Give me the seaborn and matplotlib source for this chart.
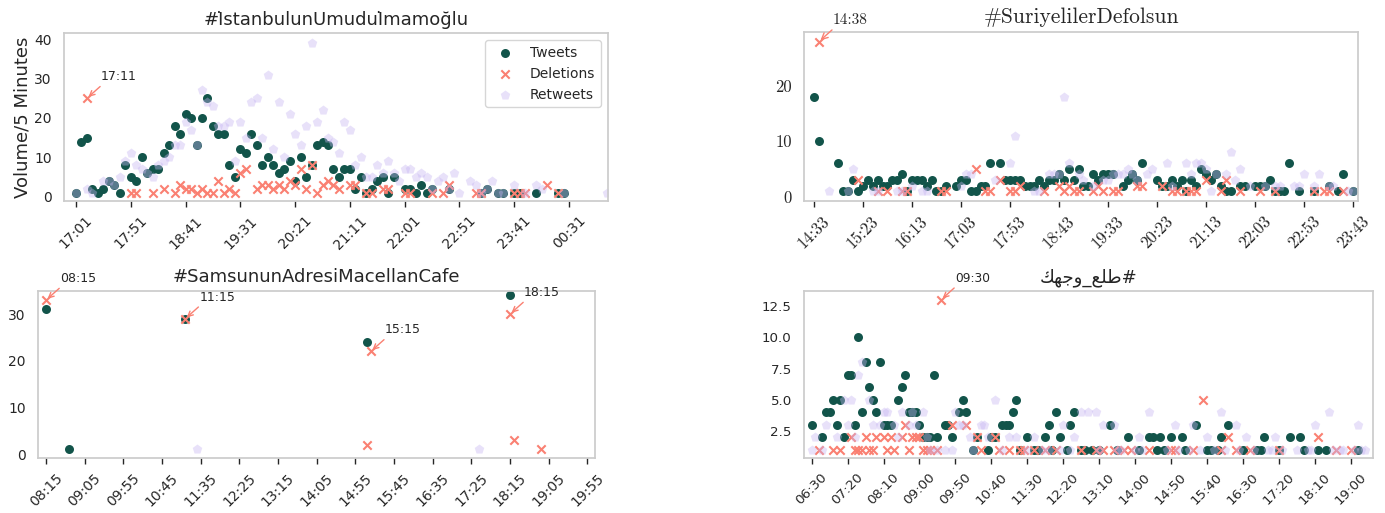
import pandas as pd
import seaborn as sns
import matplotlib.pyplot as plt

sns.set_style('whitegrid', {'axes.grid': False, 'xtick.bottom': True,
                            'axes.edgecolor': '.8'})
plt.rcParams['font.family'] = ['DejaVu Sans']
plt.rcParams['axes.linewidth'] = 1.25
plt.rcParams['xtick.major.size'] = 4
plt.rcParams['xtick.major.width'] = 1

TWEET = '#12544a'
DELETE = '#fa8072'
RETWEET = '#c6b5f2'

# all series are keyed by 5-minute bin index -> volume
# --- #İstanbulunUmuduİmamoğlu
ist_tweets = {0: 1, 1: 14, 2: 15, 3: 2, 4: 1, 5: 2, 6: 4, 7: 3, 8: 1, 9: 8, 10: 5, 11: 4, 12: 10,
              13: 6, 14: 7, 15: 7, 16: 11, 17: 13, 18: 18, 19: 16, 20: 21, 21: 20, 22: 13, 23: 20,
              24: 25, 25: 18, 26: 16, 27: 16, 28: 8, 29: 5, 30: 12, 31: 11, 32: 16, 33: 13, 34: 8,
              35: 10, 36: 8, 37: 6, 38: 7, 39: 9, 40: 4, 41: 10, 42: 5, 43: 8, 44: 13, 45: 14, 46: 13,
              47: 7, 48: 5, 49: 7, 50: 7, 51: 2, 52: 5, 53: 1, 54: 2, 55: 4, 56: 5, 57: 1, 58: 5,
              60: 2, 61: 2, 62: 1, 63: 3, 64: 1, 65: 2, 68: 2, 74: 1, 75: 2, 77: 1, 78: 1, 80: 1,
              81: 1, 84: 1, 88: 1, 89: 1}
ist_deletions = {2: 25, 10: 1, 11: 1, 14: 1, 16: 2, 18: 1, 19: 3, 20: 2, 21: 2, 22: 1, 23: 2, 24: 1,
                 25: 1, 26: 4, 27: 1, 28: 2, 29: 1, 30: 6, 31: 7, 33: 2, 34: 3, 35: 3, 36: 2, 37: 3,
                 38: 2, 39: 4, 40: 3, 41: 7, 42: 2, 43: 8, 44: 1, 45: 3, 46: 4, 47: 3, 48: 2, 50: 3,
                 51: 3, 53: 1, 54: 1, 56: 2, 57: 2, 60: 1, 61: 1, 65: 1, 67: 1, 68: 3, 73: 1, 74: 1,
                 80: 1, 81: 1, 82: 1, 86: 3, 88: 1}
ist_retweets = {0: 1, 2: 2, 3: 1, 5: 4, 6: 4, 7: 3, 8: 5, 9: 9, 10: 11, 11: 8, 12: 7, 13: 6, 14: 5,
                15: 8, 16: 9, 17: 10, 18: 13, 19: 13, 20: 19, 21: 17, 22: 13, 23: 27, 24: 24, 25: 23,
                26: 18, 27: 18, 28: 19, 29: 9, 30: 19, 31: 15, 32: 24, 33: 25, 34: 15, 35: 31, 36: 12,
                37: 24, 38: 10, 39: 21, 40: 16, 41: 13, 42: 18, 43: 39, 44: 19, 45: 22, 46: 15, 47: 14,
                48: 11, 49: 19, 50: 17, 51: 8, 52: 10, 53: 5, 54: 5, 55: 8, 56: 6, 57: 9, 58: 6, 59: 4,
                60: 7, 61: 7, 62: 5, 63: 6, 64: 5, 65: 2, 66: 4, 67: 5, 68: 2, 69: 6, 70: 1, 72: 4,
                73: 3, 74: 1, 75: 2, 76: 4, 77: 1, 78: 1, 80: 3, 82: 1, 84: 3, 85: 2, 89: 1, 97: 1}
ist_ticks = ['17:01', '17:51', '18:41', '19:31', '20:21', '21:11', '22:01', '22:51', '23:41', '00:31']
ist_peaks = [2]
ist_peak_labels = ['17:11']

# --- #SuriyelilerDefolsun
sur_tweets = {0: 18, 1: 10, 5: 6, 6: 1, 7: 1, 8: 3, 9: 1, 10: 2, 11: 3, 12: 2, 13: 3, 14: 2, 15: 2,
              16: 3, 17: 3, 18: 4, 19: 1, 20: 3, 21: 3, 22: 3, 23: 2, 24: 3, 25: 1, 26: 1, 27: 2,
              29: 2, 30: 3, 31: 3, 32: 1, 33: 1, 34: 2, 35: 2, 36: 6, 38: 6, 39: 3, 40: 3, 41: 3,
              42: 3, 43: 2, 44: 2, 45: 2, 46: 3, 47: 2, 48: 3, 49: 3, 50: 4, 51: 3, 52: 5, 53: 3,
              54: 5, 55: 2, 56: 2, 57: 4, 58: 3, 59: 4, 60: 4, 61: 4, 63: 2, 64: 3, 65: 4, 66: 3,
              67: 6, 70: 3, 71: 2, 72: 2, 73: 3, 74: 2, 75: 3, 76: 1, 77: 3, 78: 2, 79: 5, 80: 4,
              81: 3, 82: 4, 83: 2, 84: 1, 85: 1, 87: 2, 88: 2, 90: 2, 91: 2, 92: 2, 93: 3, 94: 1,
              95: 1, 96: 1, 97: 6, 99: 1, 102: 1, 105: 2, 107: 1, 108: 4, 110: 1}
sur_deletions = {1: 28, 9: 3, 13: 1, 15: 1, 18: 1, 19: 1, 26: 1, 27: 1, 33: 5, 35: 1, 36: 1, 38: 3,
                 40: 1, 41: 1, 42: 2, 47: 1, 50: 2, 51: 1, 52: 2, 53: 1, 54: 1, 57: 1, 58: 2, 59: 1,
                 61: 1, 62: 1, 66: 2, 67: 2, 71: 2, 73: 1, 74: 1, 76: 1, 77: 1, 78: 1, 80: 3, 83: 1,
                 84: 3, 87: 1, 91: 1, 94: 1, 102: 1, 104: 1, 105: 1, 108: 1}
sur_retweets = {3: 1, 7: 1, 8: 5, 12: 1, 13: 1, 17: 1, 18: 1, 20: 2, 22: 1, 23: 1, 30: 2, 31: 4,
                32: 4, 37: 3, 40: 6, 41: 11, 45: 1, 46: 1, 48: 4, 49: 4, 50: 4, 51: 18, 52: 6, 54: 4,
                55: 3, 57: 2, 59: 3, 60: 3, 61: 4, 62: 4, 63: 4, 64: 5, 65: 4, 66: 3, 68: 4, 69: 5,
                72: 6, 73: 2, 76: 6, 77: 4, 78: 6, 79: 6, 80: 5, 81: 1, 82: 4, 84: 4, 85: 8, 86: 3,
                87: 5, 89: 2, 92: 2, 94: 2, 95: 2, 98: 2, 99: 2, 100: 4, 102: 2, 103: 4, 105: 2,
                106: 2, 109: 1, 110: 1}
sur_ticks = ['14:33', '15:23', '16:13', '17:03', '17:53', '18:43', '19:33', '20:23', '21:13',
             '22:03', '22:53', '23:43']
sur_peaks = [1]
sur_peak_labels = ['14:38']

# --- #SamsununAdresiMacellanCafe
sam_tweets = {0: 31, 6: 1, 36: 29, 83: 24, 120: 34}
sam_deletions = {0: 33, 36: 29, 83: 2, 84: 22, 120: 30, 121: 3, 128: 1}
sam_retweets = {39: 1, 112: 1}
sam_ticks = ['08:15', '09:05', '09:55', '10:45', '11:35', '12:25', '13:15', '14:05', '14:55',
             '15:45', '16:35', '17:25', '18:15', '19:05', '19:55']
sam_peaks = [0, 36, 84, 120]
sam_peak_labels = ['08:15', '11:15', '15:15', '18:15']

# --- #طلع_وجهك
tal_tweets = {0: 3, 3: 2, 4: 4, 5: 4, 6: 5, 7: 3, 8: 5, 9: 2, 10: 7, 11: 7, 12: 3, 13: 10, 14: 4,
              15: 8, 16: 6, 17: 5, 18: 4, 19: 8, 20: 3, 21: 3, 22: 3, 24: 5, 25: 6, 26: 7, 27: 4,
              28: 4, 29: 4, 30: 3, 31: 2, 32: 2, 33: 2, 34: 7, 35: 2, 37: 3, 38: 3, 39: 2, 41: 4,
              42: 5, 43: 4, 45: 1, 46: 2, 49: 1, 50: 2, 51: 2, 53: 3, 54: 3, 55: 3, 56: 4, 57: 5,
              58: 1, 60: 2, 62: 1, 63: 1, 65: 2, 66: 3, 67: 1, 68: 4, 69: 2, 71: 1, 72: 3, 73: 4,
              75: 1, 76: 1, 78: 1, 80: 1, 83: 3, 85: 1, 88: 2, 91: 1, 94: 2, 95: 2, 96: 1, 97: 2,
              98: 1, 100: 2, 103: 2, 104: 1, 107: 3, 110: 1, 111: 1, 113: 1, 114: 2, 116: 3, 120: 1,
              124: 1, 125: 1, 126: 2, 130: 1, 133: 2, 136: 2, 137: 1, 141: 1, 143: 1, 152: 1}
tal_deletions = {2: 1, 6: 1, 8: 1, 11: 2, 12: 1, 13: 1, 14: 1, 15: 2, 16: 1, 17: 1, 18: 2, 20: 2,
                 21: 1, 22: 2, 23: 1, 25: 2, 26: 3, 27: 1, 28: 2, 29: 2, 30: 2, 31: 1, 32: 1, 33: 1,
                 35: 1, 36: 13, 39: 3, 43: 3, 46: 2, 47: 1, 51: 2, 52: 1, 55: 1, 58: 1, 59: 1, 62: 1,
                 65: 1, 68: 1, 75: 1, 79: 1, 81: 1, 84: 1, 87: 1, 89: 1, 94: 1, 100: 1, 101: 1,
                 106: 1, 109: 5, 114: 1, 116: 2, 118: 1, 122: 1, 130: 1, 141: 2, 146: 1, 150: 1}
tal_retweets = {0: 1, 1: 2, 3: 1, 4: 3, 7: 2, 9: 5, 10: 3, 11: 5, 12: 2, 13: 7, 14: 8, 16: 5, 17: 3,
                19: 3, 20: 4, 21: 4, 23: 3, 24: 2, 25: 4, 27: 3, 28: 4, 29: 3, 31: 4, 32: 2, 33: 1,
                35: 1, 37: 1, 39: 1, 40: 4, 41: 3, 42: 3, 44: 2, 45: 1, 47: 3, 48: 3, 49: 2, 51: 5,
                53: 1, 55: 2, 57: 2, 60: 1, 62: 2, 64: 1, 66: 1, 69: 1, 70: 3, 72: 1, 73: 2, 75: 4,
                77: 4, 79: 4, 80: 1, 81: 3, 84: 3, 85: 1, 86: 1, 90: 1, 91: 2, 92: 1, 94: 4, 99: 1,
                101: 3, 102: 1, 105: 1, 106: 3, 108: 1, 110: 2, 112: 1, 114: 4, 115: 1, 118: 3,
                119: 1, 121: 2, 123: 1, 127: 1, 128: 1, 129: 2, 131: 1, 135: 1, 138: 1, 139: 1,
                140: 3, 144: 4, 145: 1, 147: 1, 148: 1, 151: 1, 152: 3, 153: 1, 154: 1}
tal_ticks = ['06:30', '07:20', '08:10', '09:00', '09:50', '10:40', '11:30', '12:20', '13:10',
             '14:00', '14:50', '15:40', '16:30', '17:20', '18:10', '19:00']
tal_peaks = [36]
tal_peak_labels = ['09:30']
# "#طلع_وجهك" written in visual order with Arabic presentation forms (matplotlib does no shaping)
tal_title = '\uFEDA\uFEEC\uFE9F\uFEED_\uFECA\uFEE0\uFEC3#'


def frame(series):
    return pd.DataFrame({'minute': [k * 5 for k in series], 'volume': list(series.values())})


def panel(ax, tweets, deletions, retweets, ticks, peaks, peak_labels, title, font,
          tick_size=10, title_size=13, note_size=9, title_font=None):
    sns.scatterplot(data=frame(tweets), x='minute', y='volume', ax=ax, color=TWEET, marker='o',
                    s=42, linewidth=0, label='Tweets')
    sns.scatterplot(data=frame(deletions), x='minute', y='volume', ax=ax, color=DELETE, marker='x',
                    s=36, linewidth=1.5, label='Deletions')
    sns.scatterplot(data=frame(retweets), x='minute', y='volume', ax=ax, color=RETWEET, marker='p',
                    s=52, linewidth=0, alpha=0.4, label='Retweets')
    ax.set_xticks([i * 50 for i in range(len(ticks))])
    ax.set_xticklabels(ticks, rotation=45)
    for lbl in ax.get_xticklabels() + ax.get_yticklabels():
        lbl.set_family(font)
        lbl.set_fontsize(tick_size)
    for k, txt in zip(peaks, peak_labels):
        ax.annotate(txt, xy=(k * 5, deletions[k]), xytext=(14, 18), textcoords='offset pixels',
                    fontsize=note_size, color='.15', family=font,
                    arrowprops=dict(arrowstyle='->', color=DELETE, lw=1, relpos=(0.08, 0),
                                    shrinkA=0, shrinkB=1.5))
    ax.set_title(title, fontsize=title_size, family=title_font or font)
    ax.set_xlabel('')
    ax.set_ylabel('')
    ax.tick_params(axis='y', length=0, pad=9)
    ax.tick_params(axis='x', pad=5)
    ax.get_legend().remove()


fig = plt.figure(figsize=(13.85, 5.13), dpi=100)
ax1 = fig.add_axes([0.0464, 0.6082, 0.3924, 0.3269])
ax2 = fig.add_axes([0.5807, 0.6082, 0.4001, 0.3300])
ax3 = fig.add_axes([0.02765, 0.1066, 0.4020, 0.3267])
ax4 = fig.add_axes([0.5807, 0.1066, 0.4106, 0.3267])

ax1.set_yticks([0, 10, 20, 30, 40])
panel(ax1, ist_tweets, ist_deletions, ist_retweets, ist_ticks, ist_peaks, ist_peak_labels,
      '#I\u0307stanbulunUmuduI\u0307mamoğlu', ['DejaVu Sans'])
ax1.set_xlim(-10.7, 485.3)
ax1.set_ylim(-1.1, 41.5)
ax1.set_ylabel('Volume/5 Minutes', fontsize=13, labelpad=2)
ax1.legend(loc='upper right', fontsize=10, frameon=True)

ax2.set_yticks([0, 10, 20])
panel(ax2, sur_tweets, sur_deletions, sur_retweets, sur_ticks, sur_peaks, sur_peak_labels,
      '#SuriyelilerDefolsun', ['cmr10', 'DejaVu Serif'], tick_size=12, title_size=15.5,
      note_size=11)
ax2.set_xlim(-9.9, 555.5)
ax2.set_ylim(-0.8, 29.8)

ax3.set_yticks([0, 10, 20, 30])
panel(ax3, sam_tweets, sam_deletions, sam_retweets, sam_ticks, sam_peaks, sam_peak_labels,
      '#SamsununAdresiMacellanCafe', ['DejaVu Sans'])
ax3.set_xlim(-10, 710)
ax3.set_ylim(-0.9, 35)

ax4.set_yticks([2.5, 5.0, 7.5, 10.0, 12.5])
panel(ax4, tal_tweets, tal_deletions, tal_retweets, tal_ticks, tal_peaks, tal_peak_labels,
      tal_title, ['DejaVu Sans'], tick_size=9.6, note_size=8.8)
ax4.set_xlim(-10.3, 781)
ax4.set_ylim(0.32, 13.72)

fig.savefig('out.png', dpi=100)
